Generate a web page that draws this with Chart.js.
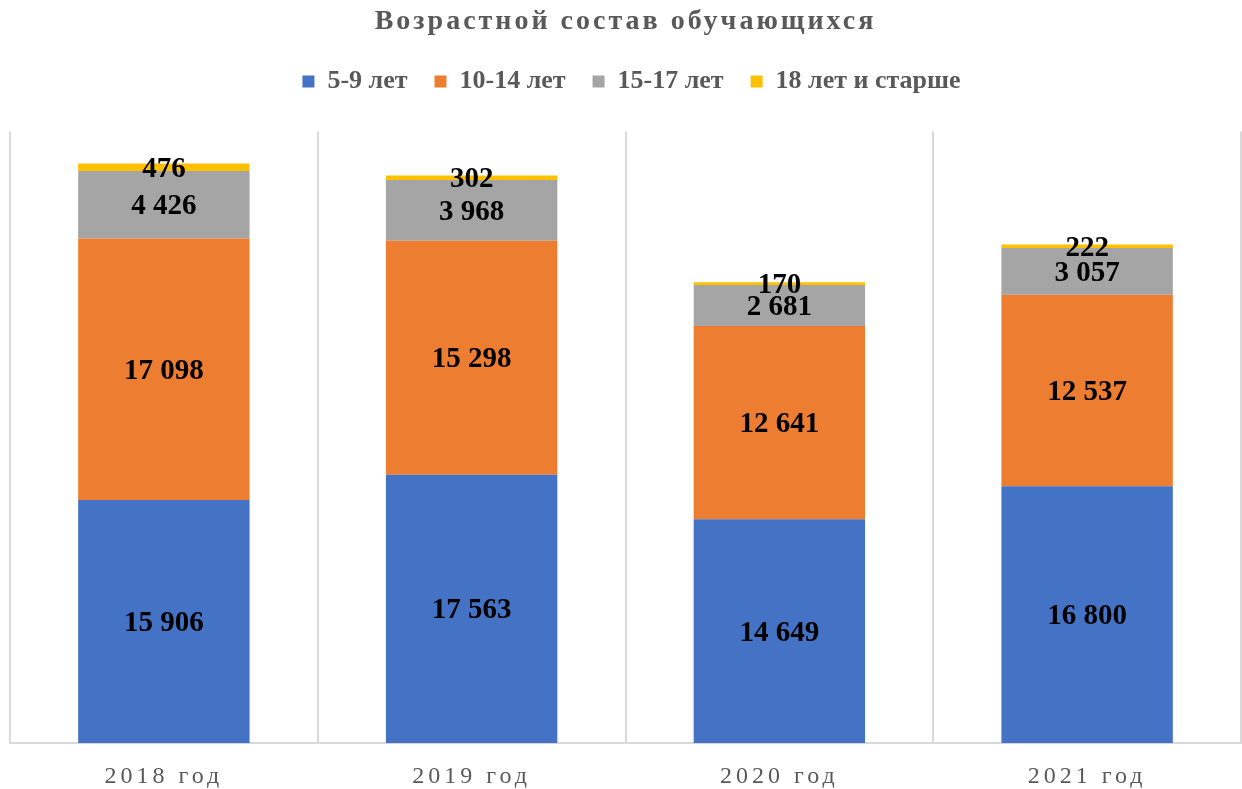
<!DOCTYPE html>
<html>
<head>
<meta charset="utf-8">
<script src="https://cdn.jsdelivr.net/npm/chart.js@4/dist/chart.umd.min.js"></script>
<style>
html,body{margin:0;padding:0;background:#fff;}
#wrap{width:1242px;height:789px;position:relative;}
</style>
</head>
<body>
<div id="wrap"><canvas id="c" width="1242" height="789"></canvas></div>
<script>
const titleText = 'Возрастной состав обучающихся';
const categories = ['2018 год', '2019 год', '2020 год', '2021 год'];
const seriesNames = ['5-9 лет', '10-14 лет', '15-17 лет', '18 лет и старше'];
const age5to9 = [15906, 17563, 14649, 16800];
const age10to14 = [17098, 15298, 12641, 12537];
const age15to17 = [4426, 3968, 2681, 3057];
const age18plus = [476, 302, 170, 222];
const seriesColors = ['#4472C4', '#ED7D31', '#A5A5A5', '#FFC000'];

const SERIF = '"Liberation Serif", "Times New Roman", serif';

function fmt(v){
  return String(v).replace(/\B(?=(\d{3})+(?!\d))/g, ' ');
}

const spacingPlugin = {
  id: 'spacing',
  beforeLayout(chart){
    const tb = chart.titleBlock;
    if (tb && !tb._patched){
      const orig = tb.draw.bind(tb);
      tb.draw = function(a){ const ctx = chart.ctx; ctx.save(); ctx.letterSpacing = '3px'; orig(a); ctx.restore(); };
      tb._patched = true;
    }
    const lg = chart.legend;
    if (lg && !lg._patchedFit){
      const origFit = lg.fit.bind(lg);
      lg.fit = function(){ origFit(); this.height += 27; };
      const origDraw = lg.draw.bind(lg);
      lg.draw = function(a){ const ctx = chart.ctx; ctx.save(); ctx.translate(6, 0); origDraw(a); ctx.restore(); };
      lg._patchedFit = true;
    }
  },
  beforeDraw(chart){
    const sx = chart.scales.x;
    if (sx && !sx._patchedLabels){
      const orig = sx.drawLabels.bind(sx);
      sx.drawLabels = function(a){ const ctx = chart.ctx; ctx.save(); ctx.letterSpacing = '4px'; orig(a); ctx.restore(); };
      sx._patchedLabels = true;
    }
  }
};

const labelPlugin = {
  id: 'segLabels',
  afterDatasetsDraw(chart){
    const ctx = chart.ctx;
    ctx.save();
    ctx.font = 'bold 29px ' + SERIF;
    ctx.fillStyle = '#000000';
    ctx.textAlign = 'center';
    ctx.textBaseline = 'middle';
    chart.data.datasets.forEach((ds, di) => {
      const meta = chart.getDatasetMeta(di);
      meta.data.forEach((bar, i) => {
        const p = bar.getProps(['x', 'y', 'base'], true);
        const cy = (p.y + p.base) / 2 + 2;
        ctx.fillText(fmt(ds.data[i]), p.x, cy);
      });
    });
    ctx.restore();
  }
};

const seriesData = [age5to9, age10to14, age15to17, age18plus];

new Chart(document.getElementById('c'), {
  type: 'bar',
  data: {
    labels: categories,
    datasets: seriesNames.map((n, i) => ({
      label: n,
      data: seriesData[i],
      backgroundColor: seriesColors[i],
      borderWidth: 0,
      categoryPercentage: 1.0,
      barPercentage: 0.557
    }))
  },
  options: {
    responsive: false,
    animation: false,
    devicePixelRatio: 1,
    layout: { padding: { left: 10, right: 1, top: 0, bottom: -21 } },
    plugins: {
      title: {
        display: true,
        text: titleText,
        color: '#595959',
        font: { family: SERIF, size: 28, weight: 'bold', lineHeight: 1.2 },
        padding: { top: 5, bottom: 3 }
      },
      legend: {
        display: true,
        position: 'top',
        labels: {
          color: '#595959',
          font: { family: SERIF, size: 26, weight: 'bold' },
          boxWidth: 12,
          boxHeight: 12,
          padding: 27
        }
      },
      tooltip: { enabled: false }
    },
    scales: {
      x: {
        stacked: true,
        grid: { display: true, offset: true, color: '#D9D9D9', lineWidth: 2, drawTicks: false },
        border: { display: true, color: '#D9D9D9', width: 2 },
        ticks: { color: '#595959', font: { family: SERIF, size: 24 }, padding: 19 }
      },
      y: {
        stacked: true,
        display: false,
        min: 0,
        max: 40000
      }
    }
  },
  plugins: [spacingPlugin, labelPlugin]
});
</script>
</body>
</html>
